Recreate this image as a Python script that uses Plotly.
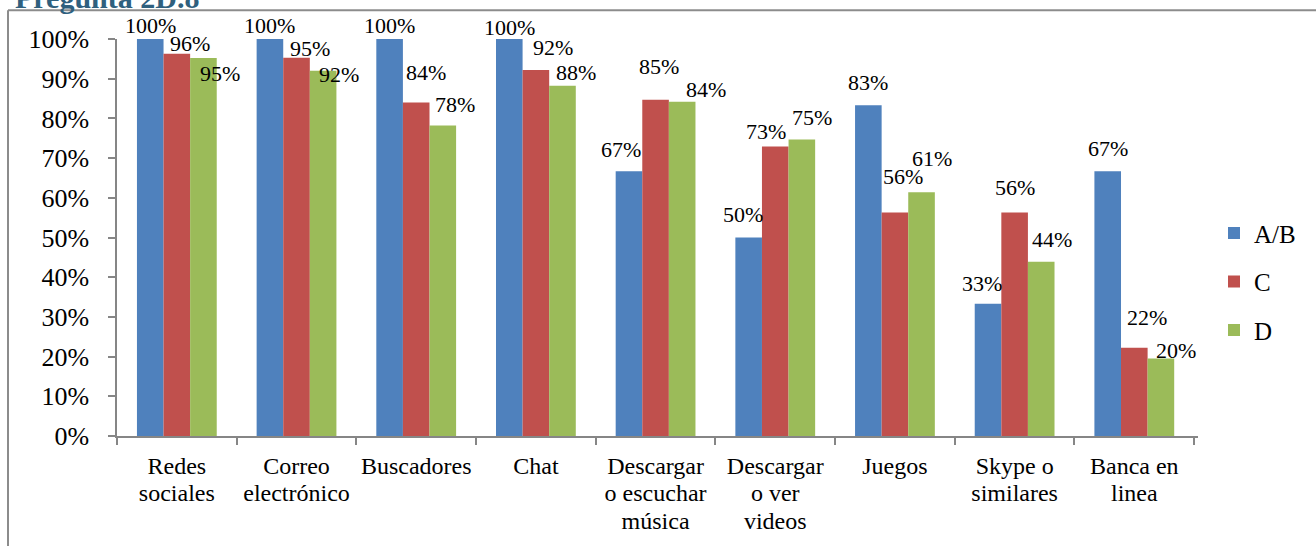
import plotly.graph_objects as go

# ---------------- data ----------------
category_lines = [
    ["Redes", "sociales"],
    ["Correo", "electrónico"],
    ["Buscadores"],
    ["Chat"],
    ["Descargar", "o escuchar", "música"],
    ["Descargar", "o ver", "videos"],
    ["Juegos"],
    ["Skype o", "similares"],
    ["Banca en", "linea"],
]
series_names = ["A/B", "C", "D"]
values_ab = [1.0, 1.0, 1.0, 1.0, 0.667, 0.5, 0.833, 0.333, 0.667]
values_c = [0.963, 0.953, 0.84, 0.922, 0.847, 0.729, 0.563, 0.563, 0.222]
values_d = [0.952, 0.92, 0.782, 0.882, 0.842, 0.747, 0.614, 0.439, 0.195]
y_tick_values = [i / 10 for i in range(11)]
y_tick_labels = [f"{i * 10}%" for i in range(11)]
title_text = "Pregunta 2D.8"

# ---------------- style / layout ----------------
colors = ["#4F81BD", "#C0504D", "#9BBB59"]
# label offsets (px) relative to bar centre / bar top (positive dy = downward)
label_dx = [
    [0, 0, 0, 0, -8, -6, 0, -6, 0],
    [13, 13, 10, 17, 3, -9, 8, 0, 13],
    [16, 16, 12, 13, 24, 10, 10, 11, 15],
]
label_dy = [
    [-14, -14, -14, -12, -22, -23, -23, -20, -23],
    [-10, -9, -30, -22, -33, -15, -36, -25, -30],
    [15, 4, -21, -13, -12, -22, -34, -22, -8],
]

W, H = 1316, 546
ML, MR, MT, MB = 117, 118, 39, 108
PW = W - ML - MR
PH = H - MT - MB
BARGAP = 1 / 3
FONT = "Liberation Serif"
AXIS_COLOR = "#868686"
FRAME_COLOR = "#8C8C8C"


def px_to_paper_x(px):
    return (px - ML) / PW


def px_to_paper_y(py):
    return (H - MB - py) / PH


cat_labels = [
    "<br>".join(f"<span style='font-size:24px'>{ln}</span>" for ln in lines)
    for lines in category_lines
]

all_values = [values_ab, values_c, values_d]

fig = go.Figure()
for name, vals, col in zip(series_names, all_values, colors):
    fig.add_trace(
        go.Bar(
            x=cat_labels,
            y=vals,
            name=name,
            legendgroup=name,
            marker=dict(color=col, line=dict(width=0)),
        )
    )

n_cat = len(category_lines)
cat_w = PW / n_cat
bar_w = cat_w * (1 - BARGAP) / len(series_names)

annotations = []
for k, vals in enumerate(all_values):
    for i, v in enumerate(vals):
        annotations.append(
            dict(
                x=cat_labels[i],
                y=v,
                xref="x",
                yref="y",
                text=f"{round(v * 100)}%",
                showarrow=False,
                xanchor="center",
                yanchor="middle",
                xshift=(k - 1) * bar_w + label_dx[k][i],
                yshift=-label_dy[k][i],
                font=dict(family=FONT, size=22, color="#000000"),
            )
        )

annotations.append(
    dict(
        x=px_to_paper_x(13),
        y=px_to_paper_y(-3),
        xref="paper",
        yref="paper",
        text=f"<b>{title_text}</b>",
        showarrow=False,
        xanchor="left",
        yanchor="middle",
        font=dict(family=FONT, size=30, color="#2F607E"),
    )
)

shapes = [
    dict(
        type="line", xref="paper", yref="paper",
        x0=px_to_paper_x(8), x1=px_to_paper_x(W + 5),
        y0=px_to_paper_y(10), y1=px_to_paper_y(10),
        line=dict(color=FRAME_COLOR, width=2),
    ),
    dict(
        type="line", xref="paper", yref="paper",
        x0=px_to_paper_x(8), x1=px_to_paper_x(8),
        y0=px_to_paper_y(10), y1=px_to_paper_y(H + 5),
        line=dict(color=FRAME_COLOR, width=2),
    ),
]

fig.update_layout(
    width=W,
    height=H,
    margin=dict(l=ML, r=MR, t=MT, b=MB, pad=0),
    paper_bgcolor="white",
    plot_bgcolor="white",
    barmode="group",
    bargap=BARGAP,
    bargroupgap=0,
    font=dict(family=FONT, color="#000000"),
    showlegend=True,
    legend=dict(
        x=px_to_paper_x(1214),
        y=px_to_paper_y(283),
        xanchor="left",
        yanchor="middle",
        font=dict(family=FONT, size=25, color="#000000"),
        tracegroupgap=13,
        bgcolor="rgba(0,0,0,0)",
    ),
    annotations=annotations,
    shapes=shapes,
)

fig.update_xaxes(
    type="category",
    showline=True,
    linecolor=AXIS_COLOR,
    linewidth=1.5,
    ticks="outside",
    tickson="boundaries",
    ticklen=7,
    tickwidth=1.5,
    tickcolor=AXIS_COLOR,
    tickfont=dict(family=FONT, size=21, color="#000000"),
    showgrid=False,
    zeroline=False,
    tickangle=0,
    ticklabelstandoff=11,
)

fig.update_yaxes(
    range=[0, 1],
    tickmode="array",
    tickvals=y_tick_values,
    ticktext=y_tick_labels,
    showline=True,
    linecolor=AXIS_COLOR,
    linewidth=1.5,
    ticks="outside",
    ticklen=7,
    tickwidth=1.5,
    tickcolor=AXIS_COLOR,
    tickfont=dict(family=FONT, size=26, color="#000000"),
    showgrid=False,
    zeroline=False,
    ticklabelstandoff=14,
)

fig.write_html(
    "out.html",
    config={"displayModeBar": False},
    post_script="document.body.style.margin='0';document.body.style.overflow='hidden';",
)
